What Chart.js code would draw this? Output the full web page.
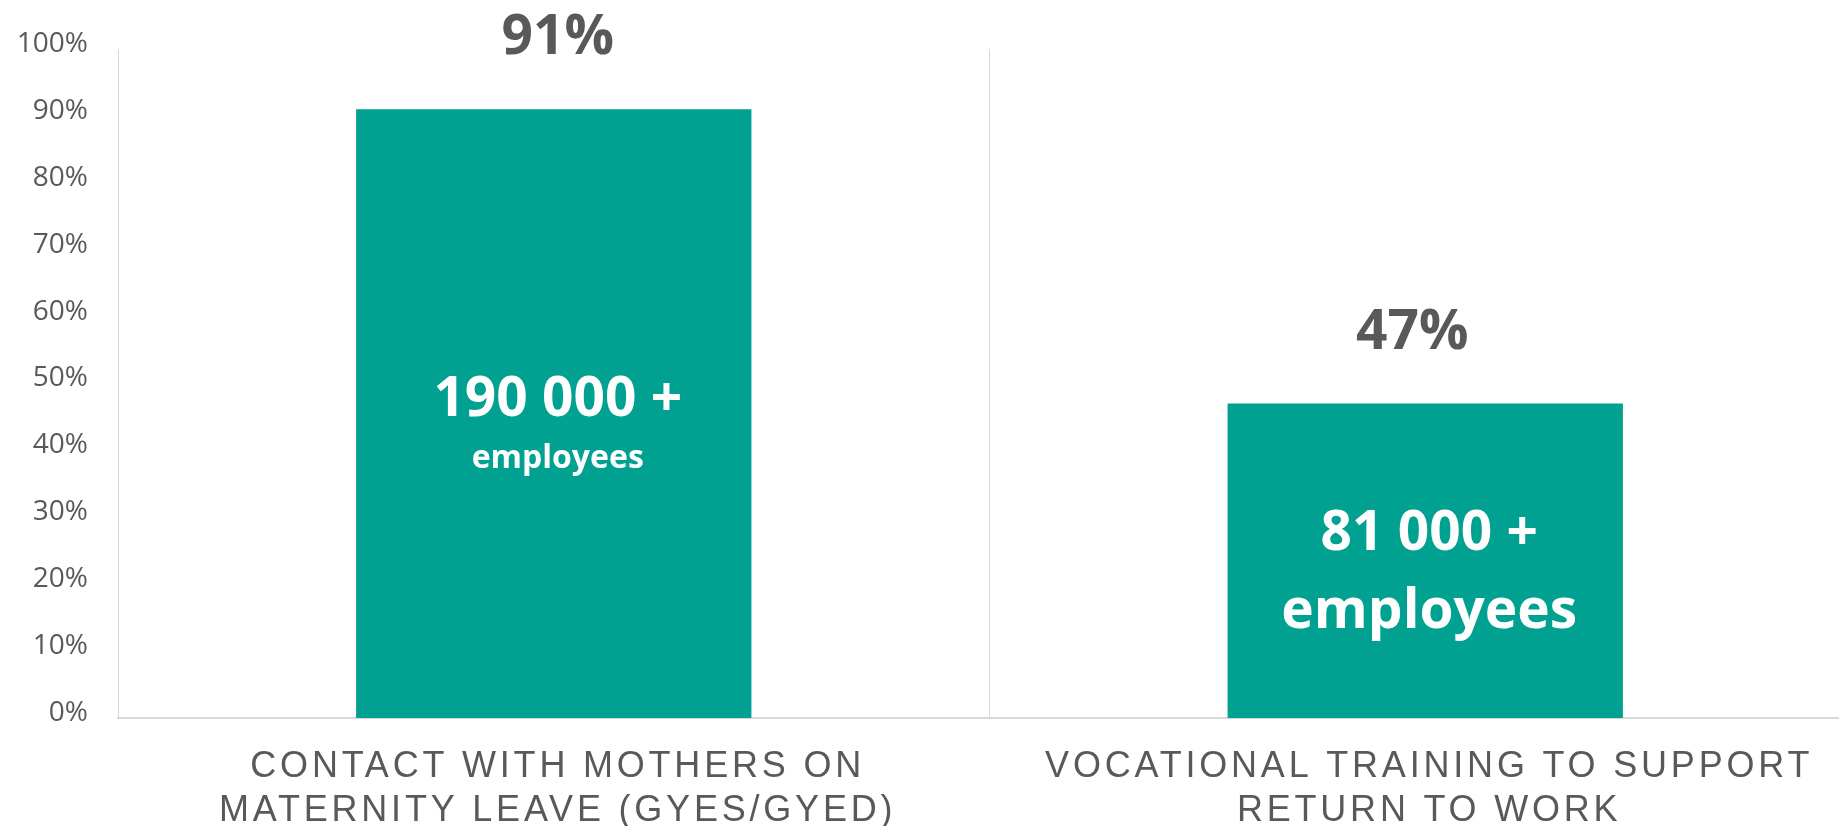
<!DOCTYPE html>
<html>
<head>
<meta charset="utf-8">
<script src="https://cdn.jsdelivr.net/npm/chart.js@4/dist/chart.umd.min.js"></script>
<style>
  html, body { margin: 0; padding: 0; background: #fff; overflow: hidden; }
  #chart { display: block; }
</style>
</head>
<body>
<canvas id="chart" width="1862" height="826" style="width:1862px;height:826px"></canvas>
<script>
// Share of employees reached, per programme
const categories = [
    ['CONTACT WITH MOTHERS ON', 'MATERNITY LEAVE (GYES/GYED)'],
    ['VOCATIONAL TRAINING TO SUPPORT', 'RETURN TO WORK']
];
const shares = [91, 47];
const shareLabels = ['91%', '47%'];
const employeeLines = [
    ['190 000 +', 'employees'],
    ['81 000 +', 'employees']
];
const yTicks = [0, 10, 20, 30, 40, 50, 60, 70, 80, 90, 100];

const textColor = '#595959';
const gridColor = '#d9d9d9';
const barColor = '#00a190';

// per-bar text layout: inside font sizes, line gap, x shift of the top label
const insideStyle = [
    { sizes: [55, 32], gap: 52, topShift: 4 },
    { sizes: [55, 55], gap: 78, topShift: -13 }
];

const barLabels = {
    id: 'barLabels',
    afterDatasetsDraw(chart) {
        const ctx = chart.ctx;
        const meta = chart.getDatasetMeta(0);
        meta.data.forEach((bar, i) => {
            const st = insideStyle[i];
            const x = bar.x + 4;
            ctx.save();
            ctx.textAlign = 'center';
            ctx.textBaseline = 'alphabetic';

            ctx.fillStyle = textColor;
            ctx.font = 'bold 55px "Open Sans"';
            ctx.fillText(shareLabels[i], bar.x + st.topShift, bar.y - 55);

            const mid = (bar.y + bar.base) / 2 + 28;
            ctx.fillStyle = '#ffffff';
            ctx.font = `bold ${st.sizes[0]}px "Open Sans"`;
            ctx.fillText(employeeLines[i][0], x, mid - st.gap / 2);
            ctx.font = `bold ${st.sizes[1]}px "Open Sans"`;
            ctx.fillText(employeeLines[i][1], x, mid + st.gap / 2);
            ctx.restore();
        });
    },
    afterDraw(chart) {
        // category labels, drawn here so they can get letter spacing
        const ctx = chart.ctx;
        const xScale = chart.scales.x;
        const spacing = 3.8;
        ctx.save();
        ctx.font = '36px "Liberation Sans", Arial, sans-serif';
        ctx.letterSpacing = spacing + 'px';
        ctx.fillStyle = textColor;
        ctx.textAlign = 'center';
        ctx.textBaseline = 'alphabetic';
        categories.forEach((lines, i) => {
            const x = xScale.getPixelForValue(i) + 2 + spacing / 2;
            lines.forEach((line, j) => {
                ctx.fillText(line, x, 777 + j * 44);
            });
        });
        ctx.restore();
    }
};

new Chart(document.getElementById('chart'), {
    type: 'bar',
    plugins: [barLabels],
    data: {
        labels: categories,
        datasets: [{
            data: shares,
            backgroundColor: barColor,
            borderWidth: 0,
            categoryPercentage: 1,
            barPercentage: 0.4536
        }]
    },
    options: {
        responsive: false,
        animation: false,
        layout: { padding: { top: 49, right: 1, left: 0, bottom: 0 } },
        plugins: {
            legend: { display: false },
            tooltip: { enabled: false }
        },
        scales: {
            x: {
                ticks: { display: false },
                grid: { color: gridColor, lineWidth: 1, drawTicks: false },
                border: { color: gridColor, width: 2 },
                afterFit: scale => { scale.height = 108; }
            },
            y: {
                min: 0,
                max: 100,
                afterBuildTicks: axis => { axis.ticks = yTicks.map(v => ({ value: v })); },
                ticks: {
                    color: textColor,
                    font: { family: '"Open Sans"', size: 28 },
                    padding: 30,
                    labelOffset: -5,
                    callback: value => value + '%'
                },
                grid: { display: false, drawTicks: false },
                border: { display: false },
                afterFit: scale => { scale.width = 118; }
            }
        }
    }
});
</script>
</body>
</html>
